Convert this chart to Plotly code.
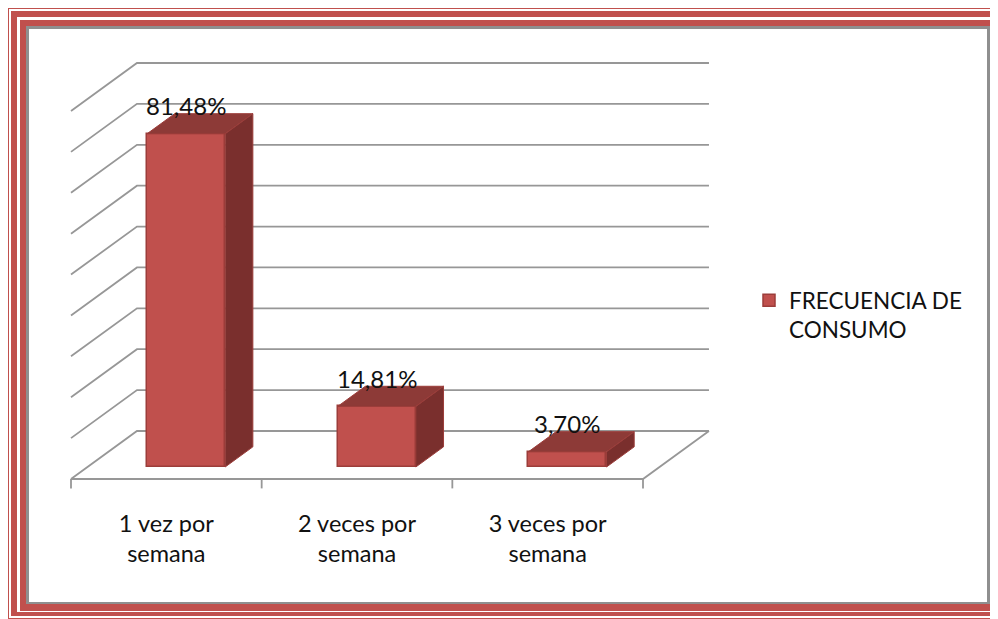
import plotly.graph_objects as go

# datos
categorias = ["1 vez por semana", "2 veces por semana", "3 veces por semana"]
frecuencia = [81.48, 14.81, 3.70]
serie = "FRECUENCIA DE CONSUMO"
rejilla = list(range(0, 100, 10))  # 0 .. 90 %

# estilo
ROJO = "#C0504D"
ROJO_TAPA = "#8D3A37"
ROJO_LADO = "#7A2F2D"
BORDE = "#9C3D3A"
GRIS = "#979797"
FUENTE = "Lato, 'Open Sans', sans-serif"

# perspectiva 3D (profundidad en unidades de datos)
DX, DY = 0.346, 11.74
Z0, Z1 = 0.25, 0.67
ANCHO = 0.41
DESPL = 0.017

# geometria en pixeles de la imagen (la pagina deja 8px de margen)
OFF = 8
W, H = 998, 619
L, R, T, B = 65, 715, 55, 489
XS = (643 - 71) / 3.0
YS = (479 - 63) / (90 + DY)
xr = [(L - 71) / XS, (R - 71) / XS]
yr = [-(B - 479) / YS, (479 - T) / YS]


def pp(x, y):
    return (x - L) / (R - L), (B - y) / (B - T)


n = len(categorias)
fig = go.Figure()

# cara frontal (barras)
xc = [i + 0.5 + DESPL for i in range(n)]
fig.add_trace(go.Bar(
    x=[c + Z0 * DX for c in xc], y=frecuencia, base=Z0 * DY, width=ANCHO,
    marker=dict(color=ROJO, line=dict(color=BORDE, width=1.5)),
    name=serie.replace("DE ", "DE<br>"), showlegend=True,
))

# tapas y laterales
prof = (Z1 - Z0) * DX
for c, v in zip(xc, frecuencia):
    x1 = c - ANCHO / 2 + Z0 * DX
    x2 = c + ANCHO / 2 + Z0 * DX
    ya, yb = Z0 * DY, Z1 * DY
    fig.add_trace(go.Scatter(
        x=[x1, x2, x2 + prof, x1 + prof, x1],
        y=[v + ya, v + ya, v + yb, v + yb, v + ya],
        fill="toself", fillcolor=ROJO_TAPA, mode="lines",
        line=dict(color=BORDE, width=1), showlegend=False, hoverinfo="skip"))
    fig.add_trace(go.Scatter(
        x=[x2, x2, x2 + prof, x2 + prof, x2],
        y=[ya, v + ya, v + yb, yb, ya],
        fill="toself", fillcolor=ROJO_LADO, mode="lines",
        line=dict(color=BORDE, width=1), showlegend=False, hoverinfo="skip"))
    fig.add_annotation(
        x=c + Z0 * DX, y=v + yb, yshift=8, text=f"{v:.2f}".replace(".", ",") + "%",
        showarrow=False, yanchor="middle", font=dict(family=FUENTE, size=24, color="#111"))

# marco decorativo
shapes = []
marcos = [
    (7, 7, 1010, 625, ROJO), (9, 9, 1010, 618, "white"),
    (11, 11, 1010, 616, ROJO), (17, 17, 1010, 612, "white"),
    (20, 20, 1000, 611, ROJO), (26, 26, 990, 604, "#8f8f8f"),
    (29, 29, 987, 602, "white"),
]
for a, b, c, d, col in marcos:
    p0 = pp(a, b)
    p1 = pp(c, d)
    shapes.append(dict(type="rect", xref="paper", yref="paper", x0=p0[0], y0=p0[1],
                       x1=p1[0], y1=p1[1], fillcolor=col, line=dict(width=0), layer="below"))

# rejilla, paredes y suelo
for g in rejilla:
    shapes.append(dict(type="path", xref="x", yref="y", layer="below",
                       path=f"M 0,{g} L {DX},{g + DY} L {n + DX},{g + DY}",
                       line=dict(color=GRIS, width=1.8)))
shapes.append(dict(type="path", xref="x", yref="y", layer="below",
                   path=f"M 0,0 L {n},0 L {n + DX},{DY}",
                   line=dict(color=GRIS, width=1.8)))
for i in range(n + 1):
    shapes.append(dict(type="line", xref="x", yref="y", layer="below",
                       x0=i, y0=0, x1=i, y1=-2.3, line=dict(color=GRIS, width=1.8)))

lx, ly = pp(749, 279)
fig.update_layout(
    width=W - OFF, height=H - OFF,
    margin=dict(l=L - OFF, r=W - R, t=T - OFF, b=H - B),
    paper_bgcolor="white", plot_bgcolor="rgba(0,0,0,0)",
    shapes=shapes, bargap=0,
    font=dict(family=FUENTE, size=20, color="#111"),
    xaxis=dict(range=xr, showgrid=False, zeroline=False, showline=False,
               tickvals=[i + 0.5 for i in range(n)],
               ticktext=[cat.replace(" por ", " por<br>") for cat in categorias],
               ticks="", ticklabelstandoff=18, tickfont=dict(size=23.5), fixedrange=True),
    yaxis=dict(range=yr, visible=False, fixedrange=True),
    legend=dict(x=lx, y=ly, xanchor="left", yanchor="top", valign="top",
                font=dict(size=22.5), bgcolor="rgba(0,0,0,0)"),
)

fig.write_html("out.html")
